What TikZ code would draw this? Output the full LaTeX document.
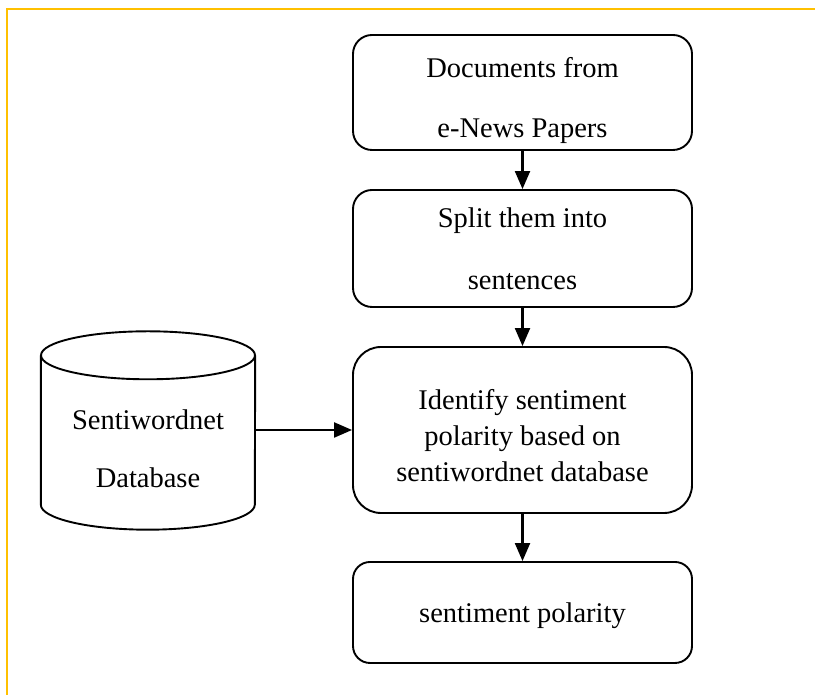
\documentclass[tikz,border=0pt]{standalone}
\usepackage{fontspec}
\setmainfont{Liberation Serif}
\usepackage{tikz}
\usetikzlibrary{arrows.meta}
\definecolor{moldura}{HTML}{FFC000}
\definecolor{traco}{HTML}{000000}
\newcommand{\alto}[1]{\rule{0pt}{#1}}

\begin{document}
\begin{tikzpicture}[x=1pt,y=1pt, font=\fontsize{28.5}{36}\selectfont,
    caixa/.style={draw=traco, line width=1.9pt, rounded corners=#1, fill=white, align=center, minimum width=339pt, inner sep=0pt},
    base/.style={minimum width=214pt, minimum height=149pt, inner sep=0pt, align=center},
    seta/.style={-{Triangle[length=18pt,width=15pt]}, line width=2.2pt, traco}]
  \useasboundingbox (0,0) rectangle (815,695);
  \draw[moldura, line width=1.8pt] (6.7,0) -- (6.7,686.3) -- (815,686.3);
  \node[caixa=19pt, minimum height=115pt] (docs) at (522.5,602.5) {\alto{36.2pt}Documents from\\[24pt]e-News Papers};
  \node[caixa=19pt, minimum height=117pt] (split) at (522.5,446.5) {\alto{21pt}Split them into\\[26pt]sentences};
  \node[caixa=28pt, minimum height=166pt] (ident) at (522.5,265) {\alto{32pt}Identify sentiment\\polarity based on\\sentiwordnet database};
  \node[caixa=17pt, minimum height=101pt] (polar) at (522.5,82.5) {\alto{25.2pt}sentiment polarity};
  \node[base] (db) at (148,265) {\alto{57pt}Sentiwordnet\\[22pt]Database};
  \draw[traco, line width=1.9pt] (db.north west) -- (db.south west) arc[start angle=180, end angle=360, x radius=107pt, y radius=25pt] -- (db.north east);
  \draw[traco, line width=1.9pt] (db.north) ellipse[x radius=107pt, y radius=24pt];
  \draw[seta] (docs) -- (split);
  \draw[seta] (split) -- (ident);
  \draw[seta] (ident) -- (polar);
  \draw[seta] (db) -- (ident);
\end{tikzpicture}
\end{document}
